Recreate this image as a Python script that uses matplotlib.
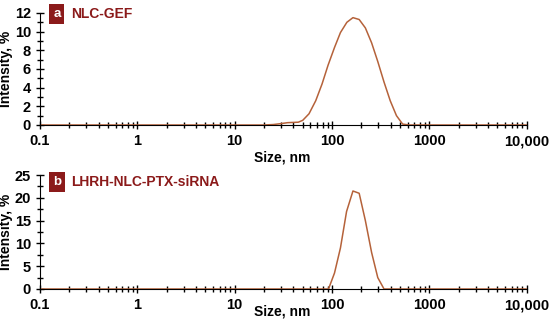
import matplotlib.pyplot as plt
from matplotlib.ticker import FixedLocator, FuncFormatter, MultipleLocator
import numpy as np

plt.rcParams['font.family'] = ['Liberation Sans', 'DejaVu Sans']
plt.rcParams['font.weight'] = 'bold'

# panel a: NLC-GEF
size_a = [0.1, 20, 25, 30, 35, 45, 50, 58, 68, 79, 91, 106, 122, 142, 164, 190,
          220, 255, 295, 342, 396, 459, 531, 615, 10000]
int_a = [0, 0, 0.05, 0.15, 0.25, 0.3, 0.5, 1.2, 2.6, 4.4, 6.4, 8.3, 9.9, 11.0, 11.5,
         11.3, 10.4, 8.8, 6.8, 4.6, 2.6, 1.0, 0.1, 0, 0]

# panel b: LHRH-NLC-PTX-siRNA
size_b = [0.1, 92, 106, 122, 141, 164, 190, 220, 255, 295, 342, 10000]
int_b = [0, 0, 3.5, 9.0, 17.0, 21.5, 21.0, 15.0, 8.0, 2.5, 0, 0]

xticks = [0.1, 1, 10, 100, 1000, 10000]
xlabels = ['0.1', '1', '10', '100', '1000', '10,000']

line_col = '#B5623A'
red = '#8B1A1A'

fig = plt.figure(figsize=(5.5, 3.21), dpi=100)
ax1 = fig.add_axes([0.0727, 0.6106, 0.885, 0.349])
ax2 = fig.add_axes([0.0727, 0.0997, 0.885, 0.355])

def style(ax, ymax, major, minor, letter, name, size_y, tag_y):
    ax.set_xscale('log')
    ax.set_xlim(0.1, 10000)
    ax.set_ylim(0, ymax)
    ax.xaxis.set_major_locator(FixedLocator(xticks))
    ax.xaxis.set_major_formatter(FuncFormatter(lambda v, p: xlabels[xticks.index(v)] if v in xticks else ''))
    ax.yaxis.set_major_locator(MultipleLocator(major))
    ax.yaxis.set_minor_locator(MultipleLocator(minor))
    for s in ['top', 'right']:
        ax.spines[s].set_visible(False)
    ax.tick_params(which='major', direction='inout', length=6, width=1, labelsize=10.5)
    ax.tick_params(which='minor', direction='inout', length=4, width=1)
    for lab in ax.get_xticklabels() + ax.get_yticklabels():
        lab.set_fontweight('bold')
    ax.set_ylabel('Intensity, %', fontsize=10, fontweight='bold', labelpad=1)
    ax.text(0.497, size_y, 'Size, nm', transform=ax.transAxes, fontsize=10,
            fontweight='bold', ha='center', va='center')
    ax.text(0.027, tag_y, letter, transform=ax.transAxes, color='white', fontsize=9.5,
            fontweight='bold', ha='left', va='center',
            bbox=dict(boxstyle='square,pad=0.3', fc=red, ec='none'))
    ax.text(0.064, tag_y, name, transform=ax.transAxes, color=red, fontsize=10,
            fontweight='bold', ha='left', va='center')

ax1.plot(size_a, int_a, color=line_col, lw=1.1)
ax2.plot(size_b, int_b, color=line_col, lw=1.1)
style(ax1, 12, 2, 1, 'a', 'NLC-GEF', -0.286, 0.99)
style(ax2, 25, 5, 2.5, 'b', 'LHRH-NLC-PTX-siRNA', -0.199, 0.94)

fig.savefig('out.png', dpi=100)
